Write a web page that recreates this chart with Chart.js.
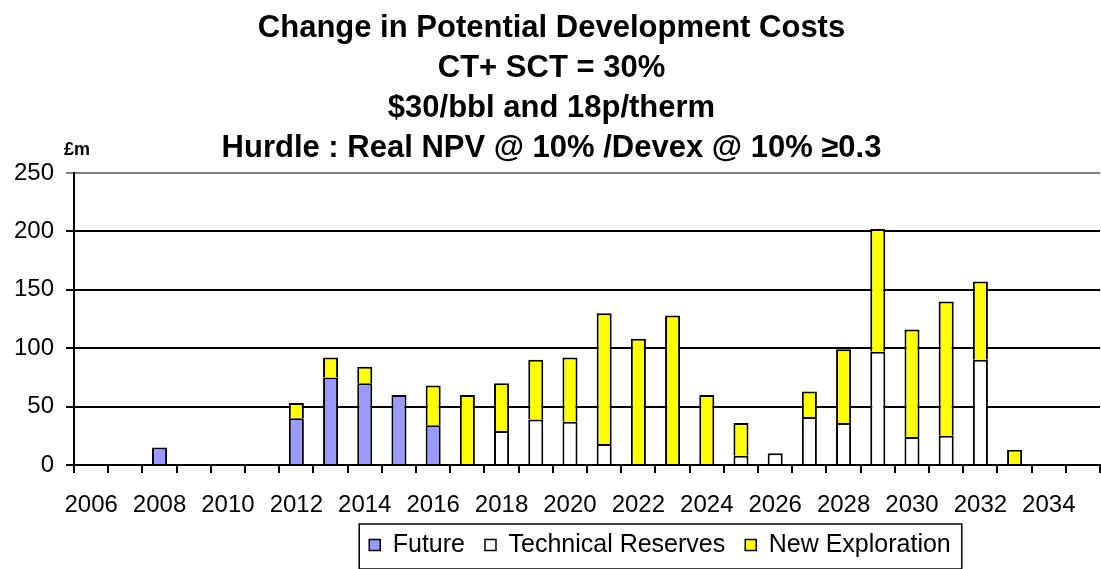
<!DOCTYPE html>
<html>
<head>
<meta charset="utf-8">
<script src="https://cdn.jsdelivr.net/npm/chart.js@4/dist/chart.umd.min.js"></script>
<style>
  html, body { margin: 0; padding: 0; background: #fff; }
  #wrap { width: 1101px; height: 569px; }
</style>
</head>
<body>
<div id="wrap"><canvas id="costChart" width="1101" height="569"></canvas></div>
<script>
const years = ['2006', '2007', '2008', '2009', '2010', '2011', '2012', '2013', '2014', '2015',
  '2016', '2017', '2018', '2019', '2020', '2021', '2022', '2023', '2024', '2025',
  '2026', '2027', '2028', '2029', '2030', '2031', '2032', '2033', '2034', '2035'];

const future = [null, null, 15, null, null, null, 40, 75, 70, 60,
  34, null, null, null, null, null, null, null, null, null,
  null, null, null, null, null, null, null, null, null, null];

const technicalReserves = [null, null, null, null, null, null, null, null, null, null,
  null, null, 29, 39, 37, 18, null, null, null, 8,
  10, 41, 36, 97, 24, 25, 90, null, null, null];

const newExploration = [null, null, null, null, null, null, 13, 17, 14, null,
  34, 60, 41, 51, 55, 112, 108, 128, 60, 28,
  null, 22, 63, 105, 92, 115, 67, 13, null, null];

const titleLines = ['Change in Potential Development Costs', 'CT+ SCT = 30%',
  '$30/bbl and 18p/therm', 'Hurdle : Real NPV @ 10% /Devex @ 10% \u22650.3'];

const font = "'Liberation Sans', Arial, sans-serif";

// legend sits right of centre in the original, framed; plus the £m unit label
const extras = {
  id: 'extras',
  afterLayout(chart) {
    const lg = chart.legend;
    const dx = 660 - (lg.left + lg.right) / 2;
    lg.left += dx;
    lg.right += dx;
  },
  afterDraw(chart) {
    const ctx = chart.ctx;
    const boxes = chart.legend.legendHitBoxes;
    if (boxes && boxes.length) {
      const l = boxes[0].left - 10;
      const last = boxes[boxes.length - 1];
      const r = last.left + last.width + 11;
      const mid = boxes[0].top + boxes[0].height / 2;
      ctx.save();
      ctx.strokeStyle = '#000';
      ctx.lineWidth = 1.5;
      ctx.strokeRect(l, mid - 21, r - l, 45);
      ctx.restore();
    }
    ctx.save();
    ctx.fillStyle = '#000';
    ctx.font = 'bold 18px ' + font;
    ctx.textAlign = 'left';
    ctx.textBaseline = 'alphabetic';
    ctx.fillText('\u00a3m', 64, 155);
    ctx.restore();
  }
};

new Chart(document.getElementById('costChart').getContext('2d'), {
  type: 'bar',
  data: {
    labels: years,
    datasets: [{
      label: 'Future',
      data: future,
      backgroundColor: '#9999FF',
      borderColor: '#000',
      borderWidth: 2
    }, {
      label: 'Technical Reserves',
      data: technicalReserves,
      backgroundColor: '#FFFFFF',
      borderColor: '#000',
      borderWidth: 2
    }, {
      label: 'New Exploration',
      data: newExploration,
      backgroundColor: '#FFFF00',
      borderColor: '#000',
      borderWidth: 2
    }]
  },
  options: {
    responsive: false,
    animation: false,
    layout: { padding: { left: 2, right: 0, top: 0, bottom: 1.5 } },
    categoryPercentage: 1,
    barPercentage: 0.44,
    scales: {
      x: {
        stacked: true,
        offset: true,
        afterFit: function (scale) { scale.height = 47.5; },
        grid: {
          offset: true,
          drawOnChartArea: false,
          drawTicks: true,
          tickLength: 8,
          color: '#000',
          lineWidth: 2
        },
        border: { color: '#000', width: 2 },
        ticks: {
          color: '#000',
          font: { family: font, size: 24 },
          maxRotation: 0,
          autoSkip: false,
          padding: 18,
          callback: function (value, index) {
            return index % 2 === 0 ? years[index] : '';
          }
        }
      },
      y: {
        stacked: true,
        min: 0,
        max: 250,
        grid: {
          color: function (c) { return c.tick && c.tick.value === 250 ? '#808080' : '#000'; },
          lineWidth: 2,
          tickLength: 8
        },
        border: { color: '#000', width: 2 },
        ticks: {
          stepSize: 50,
          color: '#000',
          font: { family: font, size: 24 },
          padding: 12
        }
      }
    },
    plugins: {
      title: {
        display: true,
        text: titleLines,
        color: '#000',
        font: { family: font, size: 31, weight: 'bold', lineHeight: 1.29 },
        padding: { top: 8, bottom: 5 }
      },
      legend: {
        position: 'bottom',
        labels: {
          color: '#000',
          font: { family: font, size: 25 },
          boxWidth: 11,
          boxHeight: 11,
          padding: 20,
          generateLabels: function (chart) {
            return chart.data.datasets.map(function (ds, i) {
              return {
                text: ds.label,
                fillStyle: ds.backgroundColor,
                strokeStyle: '#000',
                lineWidth: 1.5,
                datasetIndex: i
              };
            });
          }
        }
      },
      tooltip: { enabled: false }
    }
  },
  plugins: [extras]
});
</script>
</body>
</html>
